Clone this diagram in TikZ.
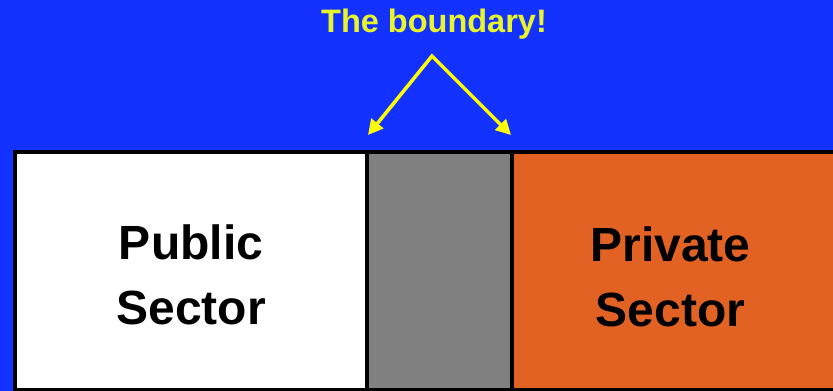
\documentclass[tikz,border=0pt]{standalone}
\usepackage{fontspec}
\setmainfont{Liberation Sans}
\usetikzlibrary{arrows.meta}
\definecolor{slideblue}{RGB}{20,50,255}
\definecolor{titleyellow}{RGB}{232,245,40}
\definecolor{arrowyellow}{RGB}{255,255,0}
\definecolor{sectororange}{RGB}{226,98,36}
\definecolor{boundarygray}{RGB}{128,128,128}
\begin{document}
\begin{tikzpicture}[x=1pt,y=-1pt,
  sector/.style={draw=black,line width=4pt,inner sep=0pt,minimum height=238pt},
  sectortext/.style={align=center,font=\bfseries\fontsize{48}{65}\selectfont},
  pointer/.style={draw=arrowyellow,line width=3.5pt,
    {Triangle[length=15pt,width=15pt]}-{Triangle[length=15pt,width=15pt]}}
  ]
\fill[slideblue] (0,0) rectangle (833,391);
\useasboundingbox (0,0) rectangle (833,391);
% the three parts
\node[sector,fill=white,minimum width=352pt] (public) at (191,271) {};
\node[sector,fill=boundarygray,minimum width=145pt] (boundary) at (439.5,271) {};
\node[sector,fill=sectororange,minimum width=323pt] (private) at (673.5,271) {};
\node[sectortext] (publictext) at ([yshift=-4pt]public.center) {Public\\Sector};
\node[sectortext] (privatetext) at ([yshift=-6pt,xshift=-3pt]private.center) {Private\\Sector};
% title and pointers
\node[anchor=base,text=titleyellow,font=\bfseries\fontsize{32.5}{36}\selectfont] (title) at (434,32) {The boundary!};
\coordinate (apex) at (432,56);
\coordinate (lefttip) at (368,135);
\coordinate (righttip) at (511,135);
\draw[pointer] (lefttip) -- (apex) -- (righttip);
\end{tikzpicture}
\end{document}
